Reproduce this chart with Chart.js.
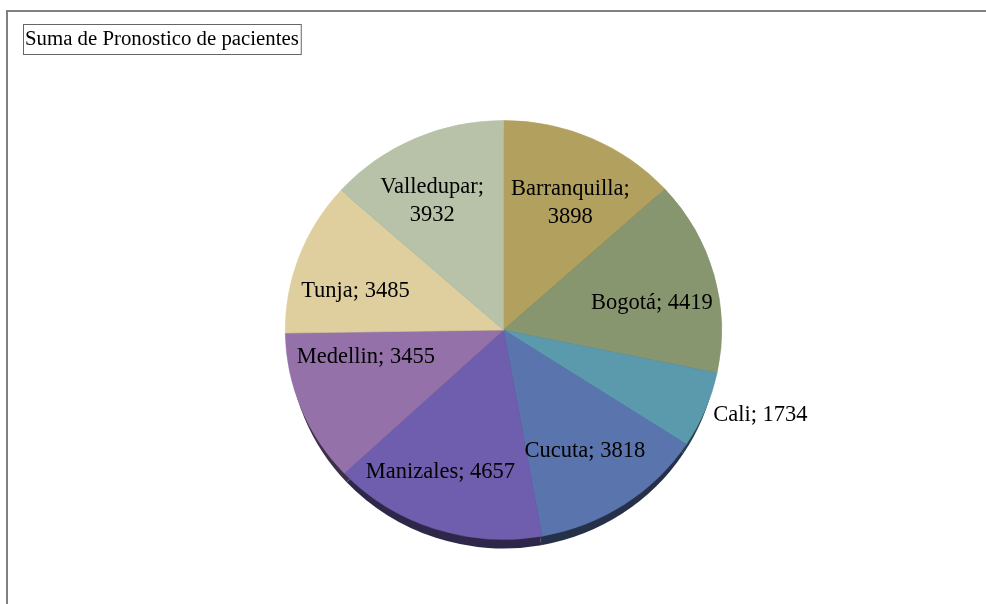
<!DOCTYPE html>
<html>
<head>
<meta charset="utf-8">
<script src="https://cdn.jsdelivr.net/npm/chart.js@4"></script>
<style>
  html, body { margin: 0; padding: 0; background: #fff; }
  #wrap { width: 986px; height: 604px; position: relative; }
</style>
</head>
<body>
<div id="wrap"><canvas id="pronosticoChart"></canvas></div>
<script>
// Datos
const tituloGrafico = 'Suma de Pronostico de pacientes';
const ciudades = ['Barranquilla', 'Bogotá', 'Cali', 'Cucuta', 'Manizales', 'Medellin', 'Tunja', 'Valledupar'];
const pronostico = [3898, 4419, 1734, 3818, 4657, 3455, 3485, 3932];
const coloresSector = ['#b1a05e', '#87966f', '#5b99ad', '#5a74ae', '#6f5dad', '#9471a8', '#dfcf9f', '#b7c2a8'];
// pequeños ajustes de las etiquetas (px), como hace Excel con "mejor ajuste"
const ajusteEtiquetas = [[5, 7], [1, 12], [0, 0], [-3, -1], [-15, 3], [4, -28], [-5, 12], [-9, 5]];

const FUENTE = '"Liberation Serif", "DejaVu Serif", serif';
const APLANADO = 0.96;   // pie is slightly squashed vertically
const GROSOR = 9;        // depth of the 3D rim

function oscurecer(hex, f) {
    const n = parseInt(hex.slice(1), 16);
    const r = Math.round(((n >> 16) & 255) * f);
    const g = Math.round(((n >> 8) & 255) * f);
    const b = Math.round((n & 255) * f);
    return `rgb(${r},${g},${b})`;
}

// Marco y titulo
const marcoPlugin = {
    id: 'marco',
    beforeDraw(chart) {
        const ctx = chart.ctx;
        ctx.save();
        ctx.strokeStyle = '#808080';
        ctx.lineWidth = 2;
        ctx.strokeRect(7, 11, 1200, 1200);
        ctx.font = `20.8px ${FUENTE}`;
        ctx.fillStyle = '#000';
        ctx.textBaseline = 'middle';
        ctx.fillText(tituloGrafico, 25, 40);
        const w = ctx.measureText(tituloGrafico).width;
        ctx.strokeStyle = '#666';
        ctx.lineWidth = 1;
        ctx.strokeRect(23.5, 24.5, w + 4, 30);
        ctx.restore();
    }
};

// Aplanado + borde 3D
const pastel3dPlugin = {
    id: 'pastel3d',
    beforeDatasetsDraw(chart) {
        const ctx = chart.ctx;
        const arcos = chart.getDatasetMeta(0).data;
        if (!arcos.length) return;
        const cx = arcos[0].x, cy = arcos[0].y;
        // rim: shifted, slightly narrower copy so it only shows near the bottom
        ctx.save();
        ctx.translate(cx, cy + GROSOR);
        ctx.scale(0.985, APLANADO);
        ctx.translate(-cx, -cy);
        arcos.forEach((a, i) => {
            ctx.beginPath();
            ctx.moveTo(a.x, a.y);
            ctx.arc(a.x, a.y, a.outerRadius, a.startAngle, a.endAngle);
            ctx.closePath();
            ctx.fillStyle = oscurecer(coloresSector[i], 0.42);
            ctx.fill();
        });
        ctx.restore();
        ctx.save();
        ctx.translate(cx, cy);
        ctx.scale(1, APLANADO);
        ctx.translate(-cx, -cy);
    },
    afterDatasetsDraw(chart) {
        chart.ctx.restore();
    }
};

// Etiquetas "Ciudad; valor"
const etiquetasPlugin = {
    id: 'etiquetas',
    afterDraw(chart) {
        const ctx = chart.ctx;
        const arcos = chart.getDatasetMeta(0).data;
        const total = pronostico.reduce((s, v) => s + v, 0);
        ctx.save();
        ctx.font = `22.5px ${FUENTE}`;
        ctx.fillStyle = '#000';
        ctx.textBaseline = 'middle';
        arcos.forEach((a, i) => {
            const texto = `${ciudades[i]}; ${pronostico[i]}`;
            const ang = (a.startAngle + a.endAngle) / 2;
            const cos = Math.cos(ang), sin = Math.sin(ang);
            const [ax, ay] = ajusteEtiquetas[i];
            if (pronostico[i] / total < 0.08) {
                const r = a.outerRadius * 1.03;
                ctx.textAlign = cos >= 0 ? 'left' : 'right';
                ctx.fillText(texto, a.x + r * cos + 2 + ax, a.y + r * sin * APLANADO + 3 + ay);
                return;
            }
            const r = a.outerRadius * 0.70;
            const x = a.x + r * cos + ax;
            const y = a.y + r * sin * APLANADO + ay;
            ctx.textAlign = 'center';
            if (ctx.measureText(texto).width > 153) {
                ctx.fillText(`${ciudades[i]};`, x, y - 14);
                ctx.fillText(`${pronostico[i]}`, x, y + 14);
            } else {
                ctx.fillText(texto, x, y);
            }
        });
        ctx.restore();
    }
};

const ctx = document.getElementById('pronosticoChart').getContext('2d');
new Chart(ctx, {
    type: 'pie',
    data: {
        labels: ciudades,
        datasets: [{
            data: pronostico,
            backgroundColor: coloresSector,
            borderColor: coloresSector,
            borderWidth: 0.6
        }]
    },
    options: {
        responsive: true,
        maintainAspectRatio: false,
        animation: false,
        events: [],
        layout: { padding: { top: 111.5, bottom: 55.5, left: 250, right: 229 } },
        plugins: {
            legend: { display: false },
            title: { display: false },
            tooltip: { enabled: false }
        }
    },
    plugins: [marcoPlugin, pastel3dPlugin, etiquetasPlugin]
});
</script>
</body>
</html>
